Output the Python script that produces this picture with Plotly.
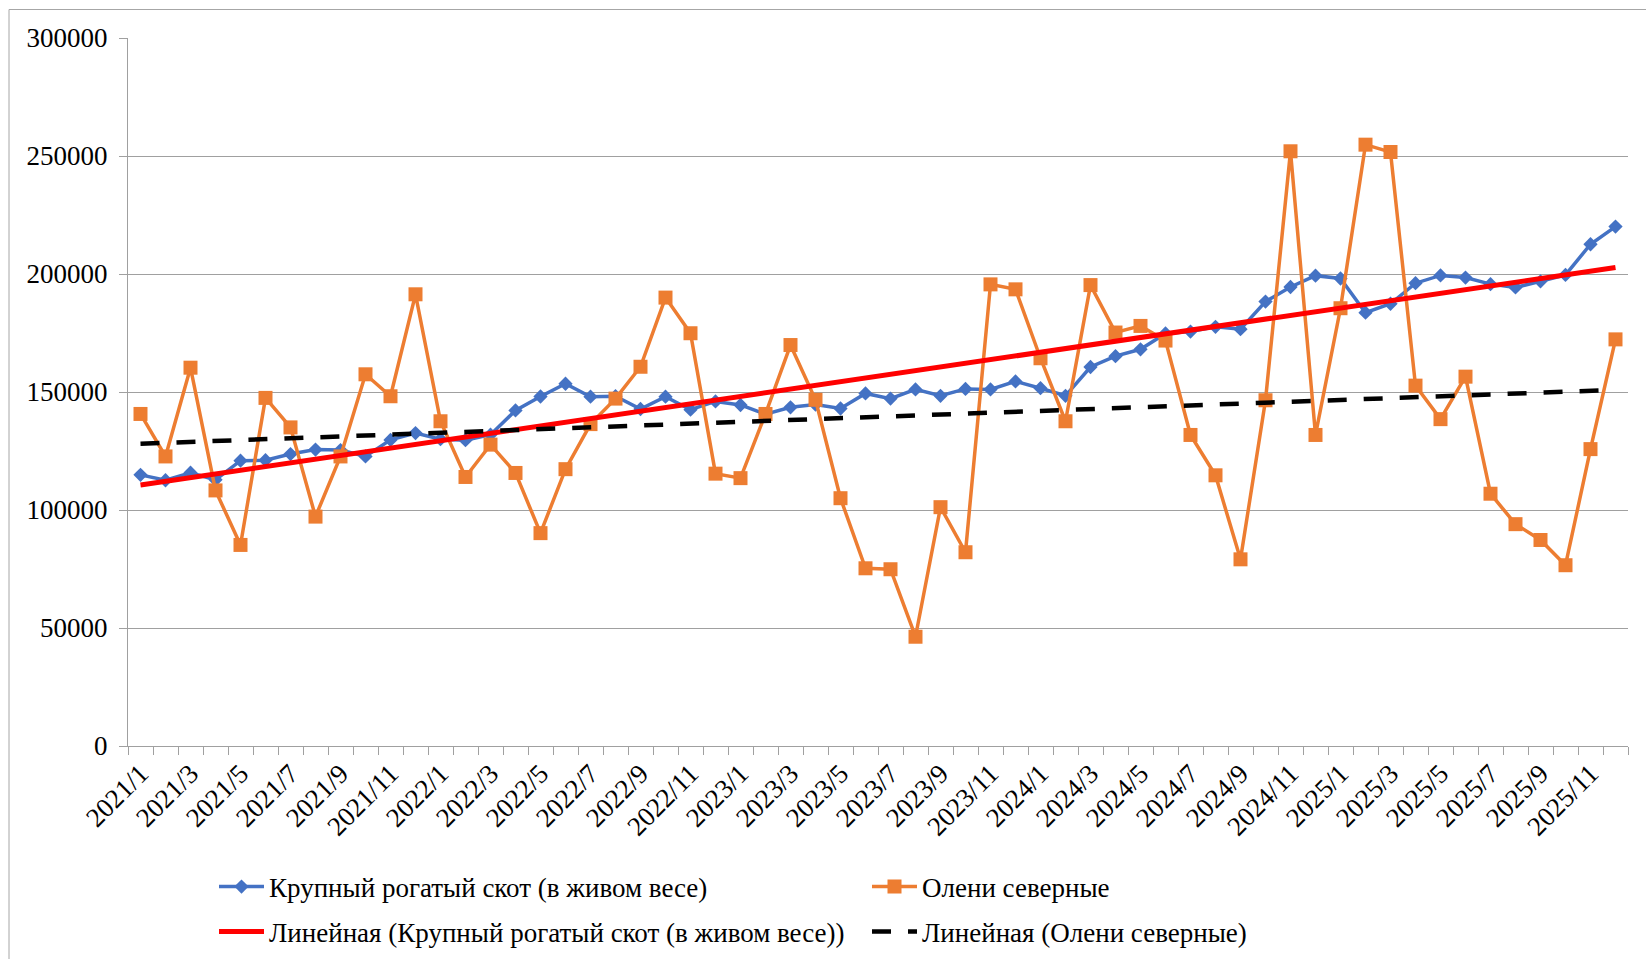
import numpy as np
import plotly.graph_objects as go

# Monthly periods, 2021/1 .. 2025/12
months = [
    "2021/1", "2021/2", "2021/3", "2021/4", "2021/5", "2021/6", "2021/7", "2021/8", "2021/9", "2021/10", "2021/11", "2021/12",
    "2022/1", "2022/2", "2022/3", "2022/4", "2022/5", "2022/6", "2022/7", "2022/8", "2022/9", "2022/10", "2022/11", "2022/12",
    "2023/1", "2023/2", "2023/3", "2023/4", "2023/5", "2023/6", "2023/7", "2023/8", "2023/9", "2023/10", "2023/11", "2023/12",
    "2024/1", "2024/2", "2024/3", "2024/4", "2024/5", "2024/6", "2024/7", "2024/8", "2024/9", "2024/10", "2024/11", "2024/12",
    "2025/1", "2025/2", "2025/3", "2025/4", "2025/5", "2025/6", "2025/7", "2025/8", "2025/9", "2025/10", "2025/11", "2025/12",
]

# Крупный рогатый скот (в живом весе)
cattle = [
    114900, 112600, 115800, 112800, 120900, 121100, 123700, 125600, 125400, 122700, 129700, 132600,
    130000, 129600, 131900, 142200, 148100, 153500, 148000, 148200, 142800, 148000, 142500, 146000,
    144500, 140600, 143500, 144700, 143000, 149400, 147200, 151100, 148400, 151300, 151100, 154500,
    151600, 148400, 160600, 165200, 168100, 174800, 175600, 177600, 176600, 188300, 194500, 199300,
    198100, 183600, 187400, 196100, 199400, 198500, 195700, 194300, 196900, 199600, 212600, 220100,
]

# Олени северные
reindeer = [
    140700, 122700, 160300, 108300, 85200, 147500, 135000, 97200, 122700, 157500, 148200, 191400,
    137600, 114000, 127700, 115700, 90200, 117300, 136400, 147200, 160700, 190000, 174900, 115400,
    113500, 140700, 169900, 146700, 105000, 75300, 74900, 46300, 101200, 82100, 195600, 193500,
    164300, 137600, 195300, 175200, 178000, 171800, 131800, 114700, 79100, 146500, 252000, 131800,
    185500, 254800, 251700, 152700, 138500, 156500, 106900, 94000, 87300, 76600, 125800, 172300,
]

name_cattle = "Крупный рогатый скот (в живом весе)"
name_reindeer = "Олени северные"

x = np.arange(len(months))


def linear_trend(values):
    """Least-squares straight line over the period index, as in a spreadsheet trendline."""
    k, b = np.polyfit(x + 1, np.asarray(values, dtype=float), 1)
    return k * (x + 1) + b


W, H = 1646, 959
ML, MR, MT, MB = 128, 18, 38, 213
PW, PH = W - ML - MR, H - MT - MB


def px_x(p):
    return (p - ML) / PW


def px_y(p):
    return (H - MB - p) / PH


FONT = "Liberation Serif"
FS = 27
GRID = "#a0a0a0"

fig = go.Figure()

fig.add_trace(go.Scatter(
    x=x, y=cattle, name=name_cattle, mode="lines+markers",
    line=dict(color="#4472C4", width=3.5),
    marker=dict(symbol="diamond", size=11, color="#4472C4"),
    legend="legend",
))
fig.add_trace(go.Scatter(
    x=x, y=reindeer, name=name_reindeer, mode="lines+markers",
    line=dict(color="#ED7D31", width=3.5),
    marker=dict(symbol="square", size=14, color="#ED7D31"),
    legend="legend",
))
fig.add_trace(go.Scatter(
    x=x, y=linear_trend(cattle), name="Линейная (" + name_cattle + ")", mode="lines",
    line=dict(color="#FF0000", width=5),
    legend="legend2",
))
fig.add_trace(go.Scatter(
    x=x, y=linear_trend(reindeer), name="Линейная (" + name_reindeer + ")", mode="lines",
    line=dict(color="#000000", width=4.5, dash="19px,17px"),
    legend="legend2",
))

legend_common = dict(
    orientation="h", xanchor="left", yanchor="middle",
    xref="container", yref="container",
    x=214 / W, font=dict(family=FONT, size=FS, color="#000000"),
    entrywidth=593, itemwidth=45, bgcolor="rgba(0,0,0,0)",
    traceorder="normal",
)

fig.update_layout(
    width=W, height=H,
    margin=dict(l=ML, r=MR, t=MT, b=MB, autoexpand=False),
    paper_bgcolor="white", plot_bgcolor="white",
    font=dict(family=FONT, size=FS, color="#000000"),
    legend=dict(legend_common, y=1 - 887 / H),
    legend2=dict(legend_common, y=1 - 932 / H),
    xaxis=dict(
        range=[-0.5, len(months) - 0.5], automargin=False,
        tickmode="array", tickvals=x[::2], ticktext=months[::2],
        tickangle=-45, ticks="", showgrid=False, zeroline=False,
        showline=True, linecolor=GRID, linewidth=1,
        tickfont=dict(family=FONT, size=FS, color="#000000"),
        minor=dict(ticks="outside", tick0=-0.5, dtick=1, ticklen=8,
                   tickcolor=GRID, tickwidth=1, showgrid=False),
    ),
    yaxis=dict(
        range=[0, 300000], tickmode="linear", tick0=0, dtick=50000, automargin=False,
        tickformat="d", showgrid=True, gridcolor=GRID, gridwidth=1,
        zeroline=False, showline=True, linecolor=GRID, linewidth=1,
        ticks="outside", ticklen=8, tickcolor=GRID, ticklabelstandoff=6,
        tickfont=dict(family=FONT, size=FS, color="#000000"),
    ),
    shapes=[dict(
        type="rect", xref="paper", yref="paper", layer="below",
        x0=px_x(9), x1=px_x(W + 10), y0=px_y(H + 10), y1=px_y(9.5),
        line=dict(color="#a6a6a6", width=1), fillcolor="rgba(0,0,0,0)",
    )],
)

fig.write_html("out.html")
